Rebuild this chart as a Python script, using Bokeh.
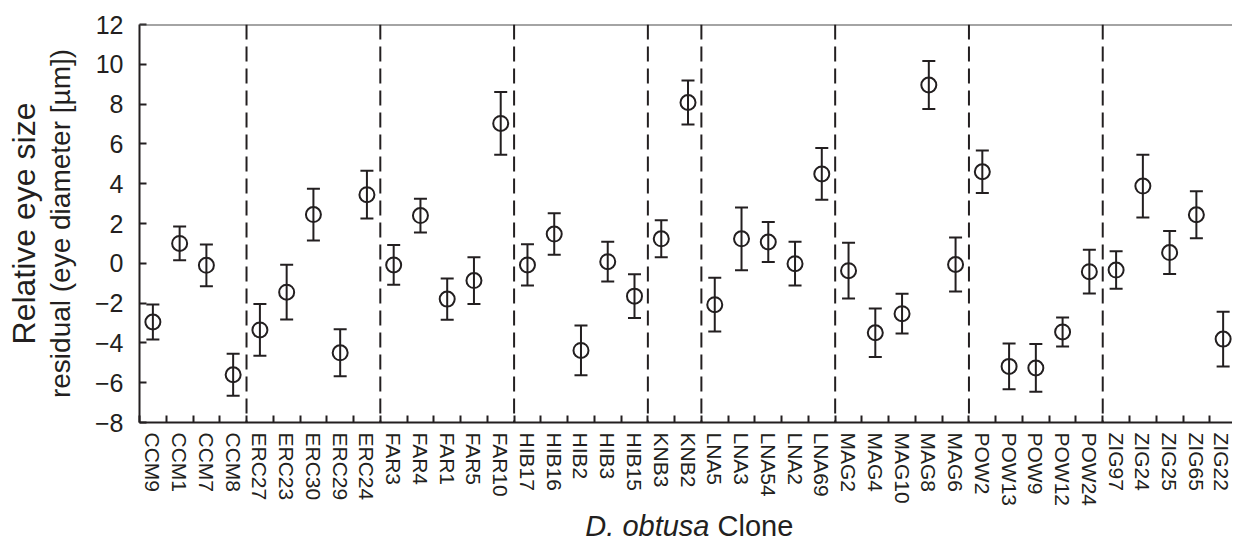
from math import pi
from bokeh.plotting import figure
from bokeh.layouts import column
from bokeh.models import (ColumnDataSource, Whisker, TeeHead, Span, Title,
                          FixedTicker, Range1d)
from bokeh.core.properties import value
from bokeh.embed import file_html
from bokeh.resources import INLINE

# ---------------- data ----------------
clones = ["CCM9", "CCM1", "CCM7", "CCM8",
          "ERC27", "ERC23", "ERC30", "ERC29", "ERC24",
          "FAR3", "FAR4", "FAR1", "FAR5", "FAR10",
          "HIB17", "HIB16", "HIB2", "HIB3", "HIB15",
          "KNB3", "KNB2",
          "LNA5", "LNA3", "LNA54", "LNA2", "LNA69",
          "MAG2", "MAG4", "MAG10", "MAG8", "MAG6",
          "POW2", "POW13", "POW9", "POW12", "POW24",
          "ZIG97", "ZIG24", "ZIG25", "ZIG65", "ZIG22"]
group_sizes = [4, 5, 5, 5, 2, 5, 5, 5, 5]

residual = [-2.95, 1.0, -0.1, -5.6,
            -3.35, -1.45, 2.45, -4.5, 3.45,
            -0.08, 2.4, -1.8, -0.87, 7.03,
            -0.08, 1.47, -4.38, 0.08, -1.65,
            1.23, 8.08,
            -2.08, 1.23, 1.07, -0.02, 4.49,
            -0.37, -3.49, -2.53, 8.96, -0.06,
            4.6, -5.18, -5.26, -3.45, -0.42,
            -0.34, 3.88, 0.54, 2.44, -3.81]
err = [0.88, 0.85, 1.05, 1.05,
       1.3, 1.38, 1.3, 1.18, 1.2,
       1.0, 0.85, 1.04, 1.18, 1.58,
       1.04, 1.04, 1.25, 1.0, 1.1,
       0.93, 1.1,
       1.35, 1.58, 1.0, 1.1, 1.3,
       1.4, 1.22, 1.0, 1.2, 1.36,
       1.07, 1.15, 1.2, 0.73, 1.1,
       0.94, 1.58, 1.08, 1.18, 1.38]

y_ticks = [-8, -6, -4, -2, 0, 2, 4, 6, 8, 10, 12]

INK = "#231f20"
FONT = "Liberation Sans"
W = 1232
H1 = 509
H2 = 33
LEFT = 139

xs = list(range(len(clones)))
src = ColumnDataSource(dict(
    x=xs, y=residual,
    upper=[r + e for r, e in zip(residual, err)],
    lower=[r - e for r, e in zip(residual, err)],
))

p = figure(width=W, height=H1,
           x_range=Range1d(-0.5, 40.35), y_range=Range1d(-8, 12),
           output_backend="svg", toolbar_location=None,
           min_border_left=LEFT, min_border_right=0,
           min_border_top=24, min_border_bottom=84)
p.outline_line_color = None
p.grid.visible = False

# x axis
boundaries = [i + 0.5 for i in range(-1, len(clones))]
p.xaxis.ticker = FixedTicker(ticks=xs, minor_ticks=boundaries)
p.xaxis.major_label_overrides = {i: c for i, c in enumerate(clones)}
p.xaxis.major_label_orientation = "vertical"
p.xaxis.major_tick_in = 0
p.xaxis.major_tick_out = 0
p.xaxis.minor_tick_in = 7
p.xaxis.minor_tick_out = 0
p.xaxis.minor_tick_line_width = 2
p.xaxis.minor_tick_line_color = INK
p.xaxis.axis_line_width = 2
p.xaxis.axis_line_color = INK
p.xaxis.major_label_standoff = 10
p.xaxis.major_label_text_font = FONT
p.xaxis.major_label_text_font_size = "21px"
p.xaxis.major_label_text_color = INK

# y axis
p.yaxis.ticker = FixedTicker(ticks=y_ticks, minor_ticks=[])
p.yaxis.major_label_overrides = {t: (str(t) if t >= 0 else "\u2212" + str(-t)) for t in y_ticks}
p.yaxis.major_tick_in = 7
p.yaxis.major_tick_out = 0
p.yaxis.major_tick_line_width = 2
p.yaxis.major_tick_line_color = INK
p.yaxis.minor_tick_line_color = None
p.yaxis.axis_line_width = 2
p.yaxis.axis_line_color = INK
p.yaxis.major_label_standoff = 16
p.yaxis.major_label_text_font = FONT
p.yaxis.major_label_text_font_size = "25px"
p.yaxis.major_label_text_color = INK
p.yaxis.axis_label = "residual (eye diameter [\u00b5m])"
p.yaxis.axis_label_text_font = FONT
p.yaxis.axis_label_text_font_style = "normal"
p.yaxis.axis_label_text_font_size = "28px"
p.yaxis.axis_label_text_color = INK
p.yaxis.axis_label_standoff = 16

p.add_layout(Title(text="Relative eye size", align="center", standoff=0,
                   text_font=FONT, text_font_style="normal",
                   text_font_size="32px", text_color=INK), "left")

# top border
p.add_layout(Span(location=12, dimension="width", line_color="#4a4a4a", line_width=2))

# dashed separators between populations
pos = 0
for g in group_sizes[:-1]:
    pos += g
    p.add_layout(Span(location=pos - 0.5, dimension="height", line_color=INK,
                      line_width=2, line_dash="15 7"))

# error bars
p.add_layout(Whisker(source=src, base="x", upper="upper", lower="lower",
                     line_color=INK, line_width=2,
                     upper_head=TeeHead(size=13, line_color=INK, line_width=2),
                     lower_head=TeeHead(size=13, line_color=INK, line_width=2)))

# points
p.scatter("x", "y", source=src, marker="circle", size=15,
          fill_color=None, line_color=INK, line_width=2)

# x-axis title strip (mixed italic / upright); frame aligned with the plot frame
p2 = figure(width=W, height=H2, x_range=Range1d(LEFT, W), y_range=Range1d(0, H2),
            output_backend="svg", toolbar_location=None, title=None,
            x_axis_type=None, y_axis_type=None,
            min_border=0, min_border_left=LEFT, min_border_right=0,
            min_border_top=0, min_border_bottom=0)
p2.outline_line_color = None
p2.grid.visible = False
p2.text(x=[709], y=[0.5], text=["D. obtusa"], text_align="right",
        text_baseline="bottom", text_font=value(FONT),
        text_font_style="italic", text_font_size="29px", text_color=INK)
p2.text(x=[717], y=[0.5], text=["Clone"], text_align="left",
        text_baseline="bottom", text_font=value(FONT),
        text_font_size="29px", text_color=INK)

layout = column(p, p2, spacing=0)
open("out.html", "w").write(file_html(layout, INLINE))
